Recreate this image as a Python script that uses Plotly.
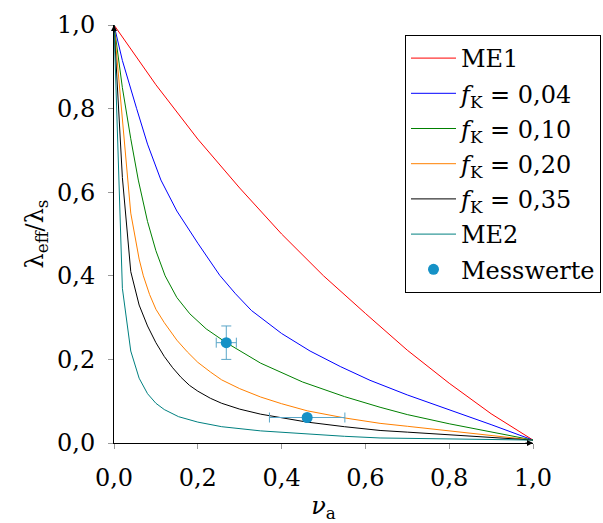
import plotly.graph_objects as go

# ---- data ----
nu_me1 = [0.0, 0.1, 0.2, 0.3, 0.4, 0.5, 0.6, 0.7, 0.8, 0.9, 1.0]
lam_me1 = [1.0, 0.857, 0.727, 0.61, 0.50, 0.40, 0.31, 0.222, 0.143, 0.07, 0.007]

nu_f04 = [0, 0.02, 0.054, 0.08, 0.112, 0.15, 0.2, 0.2525, 0.29, 0.328, 0.4, 0.468, 0.54, 0.611, 0.7, 0.8, 0.9, 1.0]
lam_f04 = [1, 0.915, 0.80, 0.715, 0.629, 0.555, 0.478, 0.401, 0.357, 0.317, 0.262, 0.22, 0.183, 0.15, 0.115, 0.08, 0.044, 0.007]

nu_f10 = [0, 0.02, 0.04, 0.058, 0.08, 0.1, 0.122, 0.15, 0.181, 0.22, 0.268, 0.35, 0.45, 0.55, 0.635, 0.7, 0.8, 0.9, 1.0]
lam_f10 = [1, 0.85, 0.728, 0.629, 0.53, 0.46, 0.40, 0.348, 0.309, 0.273, 0.24, 0.191, 0.146, 0.111, 0.0855, 0.068, 0.046, 0.026, 0.007]

nu_f20 = [0, 0.02, 0.04, 0.06, 0.07, 0.085, 0.1, 0.12, 0.136, 0.15, 0.175, 0.2, 0.23, 0.257, 0.3, 0.35, 0.4, 0.461, 0.55, 0.635, 0.7, 0.8, 0.9, 1.0]
lam_f20 = [1, 0.77, 0.55, 0.44, 0.40, 0.355, 0.32, 0.288, 0.265, 0.246, 0.218, 0.193, 0.17, 0.151, 0.13, 0.11, 0.094, 0.077, 0.06, 0.047, 0.04, 0.029, 0.018, 0.007]

nu_f35 = [0, 0.02, 0.04, 0.06, 0.08, 0.1, 0.12, 0.14, 0.16, 0.18, 0.2, 0.23, 0.257, 0.3, 0.35, 0.4, 0.461, 0.55, 0.635, 0.7, 0.8, 0.9, 1.0]
lam_f35 = [1, 0.635, 0.41, 0.33, 0.28, 0.24, 0.207, 0.18, 0.157, 0.138, 0.124, 0.107, 0.095, 0.081, 0.069, 0.06, 0.05, 0.039, 0.03, 0.026, 0.02, 0.013, 0.007]

nu_me2 = [0, 0.02, 0.04, 0.06, 0.08, 0.1, 0.12, 0.154, 0.2, 0.257, 0.35, 0.452, 0.55, 0.635, 0.8, 1.0]
lam_me2 = [1, 0.37, 0.22, 0.155, 0.118, 0.095, 0.08, 0.063, 0.05, 0.039, 0.029, 0.022, 0.016, 0.012, 0.009, 0.007]

nu_mess = [0.268, 0.461]
lam_mess = [0.24, 0.061]
nu_mess_err = [0.024, 0.09]
lam_mess_err = [0.04, 0.0]

series = [
    ("ME1", nu_me1, lam_me1, "#ff0000"),
    ("<i>f</i><sub>K</sub> = 0,04", nu_f04, lam_f04, "#0000ff"),
    ("<i>f</i><sub>K</sub> = 0,10", nu_f10, lam_f10, "#008000"),
    ("<i>f</i><sub>K</sub> = 0,20", nu_f20, lam_f20, "#ff8000"),
    ("<i>f</i><sub>K</sub> = 0,35", nu_f35, lam_f35, "#000000"),
    ("ME2", nu_me2, lam_me2, "#008080"),
]

FONT = "DejaVu Serif"
fig = go.Figure()
for i, (name, xs, ys, col) in enumerate(series):
    fig.add_trace(go.Scatter(x=xs, y=ys, mode="lines", name=name,
                             line=dict(color=col, width=1), legendgroup=str(i)))

fig.add_trace(go.Scatter(
    x=nu_mess, y=lam_mess, mode="markers", name="Messwerte", legendgroup="m",
    marker=dict(color="#1591c6", size=11),
    error_x=dict(type="data", array=nu_mess_err, color="#5aa6c8", thickness=1, width=5),
    error_y=dict(type="data", array=lam_mess_err, color="#5aa6c8", thickness=1, width=5),
    cliponaxis=False,
))

tick_common = dict(range=[0, 1], tick0=0, dtick=0.2, tickformat=".1f",
                   showgrid=False, zeroline=False)

fig.update_layout(
    width=603, height=523,
    margin=dict(l=114, r=70, t=25, b=80, autoexpand=False),
    paper_bgcolor="white", plot_bgcolor="white",
    separators=",.",
    font=dict(family=FONT, size=24, color="black"),
    showlegend=True,
    legend=dict(x=405 / 603, y=1 - 35 / 523, xref="container", yref="container",
                xanchor="left", yanchor="top",
                bgcolor="white", bordercolor="black", borderwidth=1,
                font=dict(family=FONT, size=24), itemwidth=45, tracegroupgap=1),
    xaxis=dict(**tick_common, showline=True, linecolor="black", linewidth=1,
               ticks="outside", ticklen=5, tickcolor="#999999", tickwidth=1,
               ticklabelstandoff=8,
               title=dict(text="<i>ν</i><sub>a</sub>", standoff=10,
                          font=dict(family=FONT, size=24))),
    yaxis=dict(**tick_common, showline=True, linecolor="black", linewidth=1,
               ticks="outside", ticklen=5, tickcolor="#999999", tickwidth=1,
               ticklabelstandoff=8,
               title=dict(text="λ<sub>eff</sub>/λ<sub>s</sub>", standoff=6,
                          font=dict(family=FONT, size=24))),
    xaxis2=dict(**tick_common, overlaying="x", matches="x", ticks="inside",
                ticklen=4, tickcolor="#999999", showticklabels=False, showline=False),
    yaxis2=dict(**tick_common, overlaying="y", matches="y", ticks="inside",
                ticklen=4, tickcolor="#999999", showticklabels=False, showline=False),
)

# arrow heads on the axes
fig.add_annotation(x=1, y=0, xref="x", yref="y", ax=-9, ay=0, text="",
                   showarrow=True, arrowhead=2, arrowsize=1, arrowwidth=1.2,
                   arrowcolor="black", standoff=0)
fig.add_annotation(x=0, y=1, xref="x", yref="y", ax=0, ay=9, text="",
                   showarrow=True, arrowhead=2, arrowsize=1, arrowwidth=1.2,
                   arrowcolor="black", standoff=0)

fig.write_html("out.html")
